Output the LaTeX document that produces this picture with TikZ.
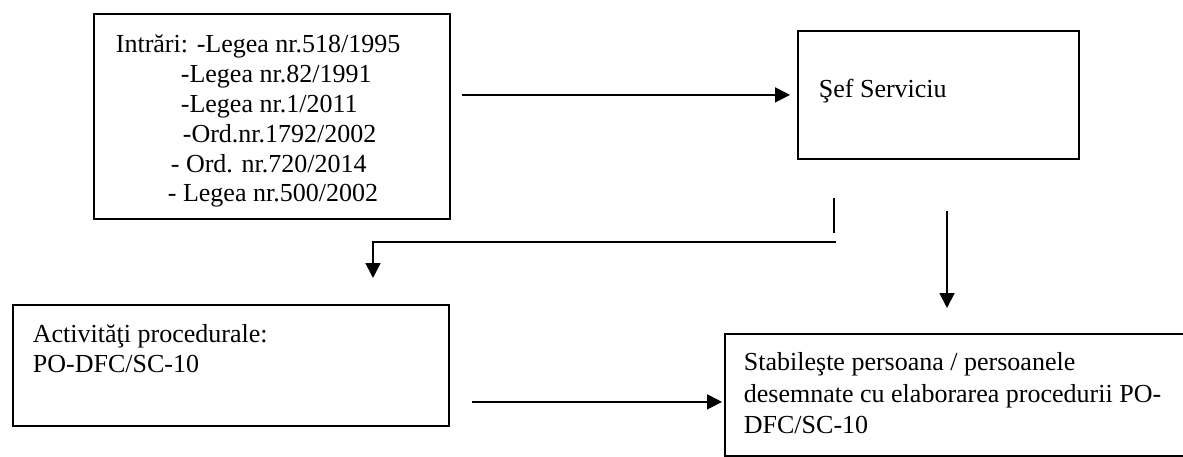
\documentclass[tikz,border=0pt]{standalone}
\usepackage{fontspec}
\setmainfont{Liberation Serif}
\usetikzlibrary{arrows.meta}

% box text: width, height, first baseline, lines
\newcommand{\boxtext}[4]{\parbox[c][#2][t]{#1}{\raggedright\rule{0pt}{#3}#4}}

\begin{document}
\begin{tikzpicture}[x=1pt,y=-1pt,
    flowbox/.style={draw,line width=1.8pt,anchor=north west,inner ysep=0pt,
                    font=\fontsize{26}{30}\selectfont},
    flowline/.style={line width=1.8pt},
    flowarrow/.style={flowline,-{Triangle[length=15pt,width=15pt]}}]
    \path[use as bounding box,clip] (0,0) rectangle (1183,457);

    \node[flowbox,inner xsep=22pt,font=\fontsize{26}{29.8}\selectfont] (intrari) at (93,13)
        {\boxtext{312pt}{205pt}{39pt}{Intrări: -Legea nr.518/1995\\
         \hspace*{65pt}-Legea nr.82/1991\\
         \hspace*{65pt}-Legea nr.1/2011\\
         \hspace*{67pt}-Ord.nr.1792/2002\\
         \hspace*{55pt}- Ord. nr.720/2014\\
         \hspace*{52pt}- Legea nr.500/2002}};
    \node[flowbox,inner xsep=21pt] (sef) at (797,30)
        {\boxtext{239pt}{128pt}{67pt}{Şef Serviciu}};
    \node[flowbox,inner xsep=20pt] (activ) at (12,304)
        {\boxtext{396pt}{121pt}{38pt}{Activităţi procedurale:\\PO-DFC/SC-10}};
    \node[flowbox,inner xsep=19pt,font=\fontsize{26}{31.5}\selectfont] (stab) at (724,333)
        {\boxtext{442pt}{122pt}{37pt}{Stabileşte persoana / persoanele\\
         desemnate cu elaborarea procedurii PO-\\DFC/SC-10}};

    \coordinate (tap)     at (834,158);
    \coordinate (split)   at (836,242);
    \coordinate (activin) at (373,278);
    \coordinate (sefout)  at (947,158);

    \draw[flowarrow,shorten <=11pt,shorten >=7pt] (intrari.east |- sef.west) -- (sef.west);
    \draw[flowline] ([yshift=-40pt]tap) -- ([yshift=-75pt]tap);
    \draw[flowarrow] (split) -| (activin);
    \draw[flowarrow,shorten <=53pt,shorten >=25pt] (sefout) -- (sefout |- stab.north);
    \draw[flowarrow,shorten <=22pt,shorten >=2pt] ([yshift=-36.5pt]activ.east) -- ([yshift=-7pt]stab.west);
\end{tikzpicture}
\end{document}
